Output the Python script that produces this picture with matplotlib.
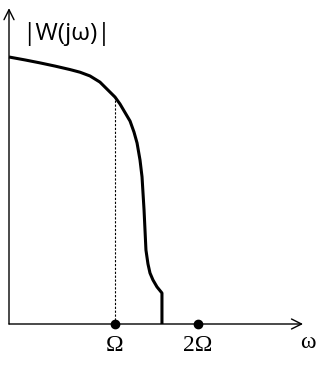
import matplotlib
matplotlib.use("Agg")
import matplotlib.pyplot as plt

# Curve |W(jω)| (x in units of Ω, y normalized to |W(0)|)
omega = [0.0, 0.151, 0.292, 0.434, 0.575, 0.670, 0.764, 0.858, 0.934, 1.0, 1.047, 1.142,
         1.179, 1.208, 1.236, 1.255, 1.274, 1.283, 1.292, 1.311, 1.330, 1.358,
         1.396, 1.443, 1.443]
mag = [1.0, 0.989, 0.978, 0.966, 0.953, 0.943, 0.929, 0.906, 0.876, 0.850, 0.824, 0.760,
       0.719, 0.678, 0.614, 0.551, 0.427, 0.352, 0.277, 0.225, 0.191, 0.165,
       0.139, 0.116, 0.0]
tick_pos = [1.0, 1.783]
tick_labels = ["Ω", "2Ω"]
omega_marker = 1.0
mag_marker = 0.850

fig = plt.figure(figsize=(3.21, 3.69), dpi=100)
ax = fig.add_axes([0, 0, 1, 1])
ax.set_xlim(-9/106, (321-9)/106)
ax.set_ylim(-(369-324)/267, 324/267)
ax.axis("off")

# axes arrows
ax.annotate("", xy=(2.774, 0), xytext=(0, 0),
            arrowprops=dict(arrowstyle="->", lw=1.0, color="black",
                            mutation_scale=18, shrinkA=0, shrinkB=0))
ax.annotate("", xy=(0, 1.183), xytext=(0, 0),
            arrowprops=dict(arrowstyle="->", lw=1.0, color="black",
                            mutation_scale=18, shrinkA=0, shrinkB=0))

ax.plot(omega, mag, color="black", lw=2.2, solid_joinstyle="round",
        solid_capstyle="butt", zorder=3)
ax.plot([omega_marker, omega_marker], [0, mag_marker], color="black", lw=0.8,
        dashes=(2, 1.5), zorder=2)
ax.plot(tick_pos, [0, 0], "o", color="black", ms=6, zorder=4)

for p, lab in zip(tick_pos, tick_labels):
    ax.text(p, -0.079, lab, ha="center", va="center", fontsize=17,
            family="Liberation Serif")
ax.text(2.82, -0.071, "ω", ha="center", va="center", fontsize=17,
        family="Liberation Serif")
ax.text(0.12, 1.086, "|W(jω)|", ha="left", va="center", fontsize=17.5,
        family="Open Sans")

fig.savefig("out.png", dpi=100)
